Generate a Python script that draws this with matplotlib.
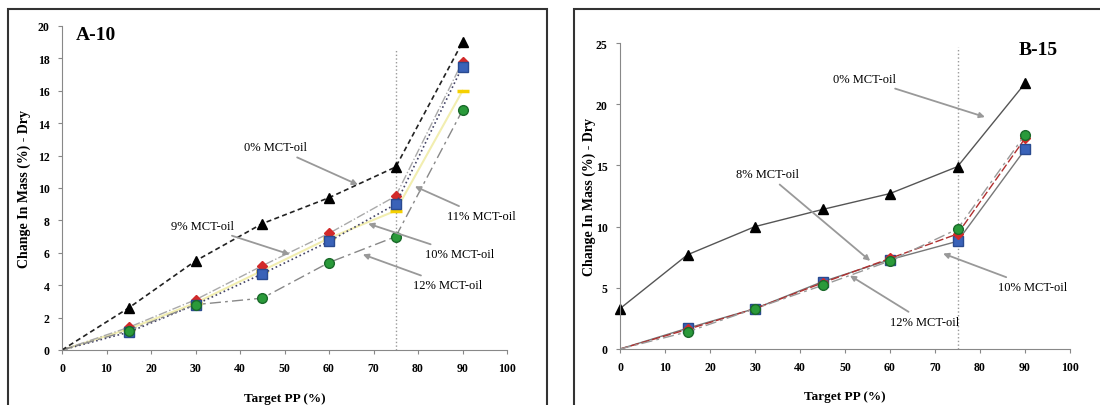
import matplotlib
matplotlib.use("Agg")
import matplotlib.pyplot as plt
from matplotlib.patches import Rectangle

plt.rcParams.update({
    'font.family': 'Liberation Serif',
    'font.weight': 'bold',
})

# A-10 data
pp = [0, 15, 30, 45, 60, 75, 90]
a_0 = [0, 2.6, 5.5, 7.8, 9.4, 11.3, 19.0]
a_9 = [0, 1.4, 3.1, 5.2, 7.2, 9.5, 17.8]
a_10 = [0, 1.1, 2.8, 4.7, 6.7, 9.0, 17.5]
a_11 = [0, 1.3, 2.9, 4.9, 6.9, 8.6, 16.0]
a_12 = [0, 1.2, 2.8, 3.2, 5.4, 7.0, 14.8]

# B-15 data
b_0 = [3.3, 7.7, 10.0, 11.4, 12.7, 14.9, 21.7]
b_8 = [0, 1.6, 3.3, 5.4, 7.4, 9.4, 17.2]
b_10 = [0, 1.7, 3.3, 5.5, 7.3, 8.8, 16.3]
b_12 = [0, 1.4, 3.3, 5.2, 7.2, 9.8, 17.5]

# annotations: (label, text pos, arrow tip)
a_notes = [
    ("0% MCT-oil", (47.9, 12.5), (66.5, 10.2)),
    ("9% MCT-oil", (31.5, 7.65), (51.2, 5.9)),
    ("11% MCT-oil", (94.2, 8.27), (79.3, 10.1)),
    ("10% MCT-oil", (89.4, 5.93), (68.8, 7.8)),
    ("12% MCT-oil", (86.7, 4.0), (67.6, 5.9)),
]
b_notes = [
    ("0% MCT-oil", (54.4, 22.06), (81.1, 18.95)),
    ("8% MCT-oil", (32.7, 14.3), (55.6, 7.2)),
    ("10% MCT-oil", (91.6, 5.07), (71.8, 7.8)),
    ("12% MCT-oil", (67.8, 2.2), (51.1, 6.0)),
]

fig = plt.figure(figsize=(11, 4.06), dpi=100)

# panel frames
fig.patches.append(Rectangle((8 / 1100, -0.1), 539 / 1100, 1.1 - 10 / 406,
                             transform=fig.transFigure, fill=False, lw=1.5, ec="#333333"))
fig.patches.append(Rectangle((574 / 1100, -0.1), 0.6, 1.1 - 10 / 406,
                             transform=fig.transFigure, fill=False, lw=1.5, ec="#333333"))

ax1 = fig.add_axes([62 / 1100, 55 / 406, 445 / 1100, 324 / 406])
ax2 = fig.add_axes([620 / 1100, 56 / 406, 450 / 1100, 306 / 406])


def style(ax, ymax, ystep, xl, yl):
    ax.set_xlim(0, 100)
    ax.set_ylim(0, ymax)
    ax.set_xticks(range(0, 101, 10))
    ax.set_yticks(range(0, ymax + 1, ystep))
    for s in ["top", "right"]:
        ax.spines[s].set_visible(False)
    for s in ["left", "bottom"]:
        ax.spines[s].set_color("#888888")
    ax.tick_params(direction="out", length=3, color="#888888", labelsize=8.5, pad=6)
    for lab in ax.get_xticklabels() + ax.get_yticklabels():
        lab.set_fontweight("bold")
    ax.set_xlabel("Target PP (%)", fontsize=9.5, fontweight="bold")
    ax.set_ylabel("Change In Mass (%) - Dry", fontsize=10, fontweight="bold")
    ax.xaxis.set_label_coords(0.5, xl)
    ax.yaxis.set_label_coords(yl, 0.5)


style(ax1, 20, 2, -0.13, -0.07)
style(ax2, 25, 5, -0.135, -0.053)

# A-10
ax1.plot([75, 75], [0, 18.5], ls=":", color="#999999", lw=1)
ax1.plot(pp, a_11, ls="-", color="#f2eeb0", lw=1.5, marker="_", ms=9, mew=2.5,
         mec="#f5d000", markevery=list(range(1, 7)))
ax1.plot(pp, a_9, ls="-.", color="#aaaaaa", lw=1, marker="D", ms=5.5,
         mfc="#d22a2a", mec="#d22a2a", markevery=list(range(1, 7)))
ax1.plot(pp, a_10, ls=":", color="#444466", lw=1.2, marker="s", ms=6.5,
         mfc="#3a62b8", mec="#2a4a90", markevery=list(range(1, 7)))
ax1.plot(pp, a_12, ls=(0, (8, 3, 2, 3)), color="#888888", lw=1, marker="o", ms=7,
         mfc="#2a9a3a", mec="#1a6a2a", markevery=list(range(1, 7)))
ax1.plot(pp, a_0, ls=(0, (3, 2)), color="#222222", lw=1.2, marker="^", ms=7.5,
         mfc="black", mec="black", markevery=list(range(1, 7)))

ax1.text(0.03, 0.975, "A-10", transform=ax1.transAxes, fontsize=14,
         fontweight="bold", ha="left", va="center")

for label, xy_text, xy in a_notes:
    ax1.annotate(label, xy=xy, xytext=xy_text, fontsize=9, fontweight="normal",
                 ha="center", va="center",
                 arrowprops=dict(arrowstyle="-|>", color="#999999", lw=1.3,
                                 mutation_scale=8, shrinkA=2, shrinkB=0))

# B-15
ax2.plot([75, 75], [0, 24.7], ls=":", color="#999999", lw=1)
ax2.plot(pp, b_10, ls="-", color="#777777", lw=1, marker="s", ms=6.5,
         mfc="#3a62b8", mec="#2a4a90", markevery=list(range(1, 7)))
ax2.plot(pp, b_8, ls=(0, (6, 2)), color="#b03030", lw=1, marker="D", ms=5.5,
         mfc="#d22a2a", mec="#d22a2a", markevery=list(range(1, 7)))
ax2.plot(pp, b_12, ls=(0, (8, 3, 2, 3)), color="#999999", lw=1, marker="o", ms=7,
         mfc="#2a9a3a", mec="#1a6a2a", markevery=list(range(1, 7)))
ax2.plot(pp, b_0, ls="-", color="#555555", lw=1, marker="^", ms=7.5,
         mfc="black", mec="black", clip_on=False)

ax2.text(0.93, 0.98, "B-15", transform=ax2.transAxes, fontsize=14,
         fontweight="bold", ha="center", va="center")

for label, xy_text, xy in b_notes:
    ax2.annotate(label, xy=xy, xytext=xy_text, fontsize=9, fontweight="normal",
                 ha="center", va="center",
                 arrowprops=dict(arrowstyle="-|>", color="#999999", lw=1.3,
                                 mutation_scale=8, shrinkA=2, shrinkB=0))

plt.savefig("out.png", dpi=100)
